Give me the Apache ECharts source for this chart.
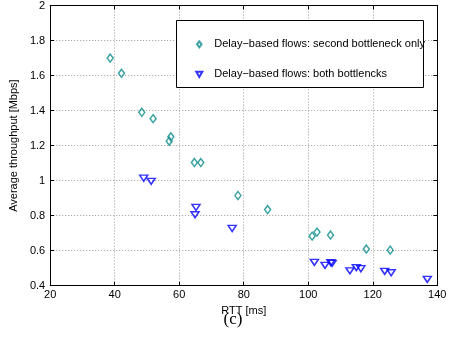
<!DOCTYPE html>
<html>
<head>
<meta charset="utf-8">
<style>
  html, body { margin: 0; padding: 0; background: #fff; }
  #chart { width: 467px; height: 345px; }
</style>
<script src="https://cdn.jsdelivr.net/npm/echarts@6/dist/echarts.min.js"></script>
</head>
<body>
<div id="chart"></div>
<script>
// RTT vs. average throughput for delay-based flows
const seriesNames = [
  'Delay\u2212based flows: second bottleneck only',
  'Delay\u2212based flows: both bottlencks'
];

// second bottleneck only
const rttSecond  = [38.6, 42.1, 48.4, 51.9, 57.4, 56.9, 64.7, 66.7, 78.2, 87.4, 101.2, 102.7, 106.9, 118.0, 125.4];
const tputSecond = [1.70, 1.613, 1.39, 1.354, 1.25, 1.225, 1.103, 1.103, 0.915, 0.835, 0.683, 0.706, 0.689, 0.609, 0.603];

// both bottlenecks
const rttBoth  = [49.0, 51.3, 65.2, 64.9, 76.4, 101.9, 105.2, 107.0, 107.4, 112.9, 114.9, 116.3, 123.7, 125.7, 136.9];
const tputBoth = [1.014, 0.996, 0.847, 0.805, 0.727, 0.533, 0.516, 0.531, 0.528, 0.485, 0.503, 0.497, 0.482, 0.474, 0.436];

const xTicks = [20, 40, 60, 80, 100, 120, 140];
const yTicks = [0.4, 0.6, 0.8, 1.0, 1.2, 1.4, 1.6, 1.8, 2.0];

const FONT = 'Liberation Sans, Arial, Helvetica, sans-serif';
const TEAL = '#0a8c8c';
const BLUE = '#0000ff';

const pairs = (xs, ys) => xs.map((x, i) => [x, ys[i]]);

const xMin = xTicks[0], xMax = xTicks[xTicks.length - 1], xStep = xTicks[1] - xTicks[0];
const yMin = yTicks[0], yMax = yTicks[yTicks.length - 1], yStep = +(yTicks[1] - yTicks[0]).toFixed(1);

const frameLine = { show: true, lineStyle: { color: '#000', width: 1 } };
const inTicks = { show: true, inside: true, length: 4, lineStyle: { color: '#000', width: 1 } };
const dotted = { show: true, lineStyle: { color: '#9a9a9a', type: [1, 2], width: 1 } };

// marker outlines used by the series and by the legend
const DIAMOND_PATH = 'path://M3,0L6,4L3,8L0,4Z';
const TRI_DOWN_PATH = 'path://M0,0L8,0L4,7Z';

const chart = echarts.init(document.getElementById('chart'), null, { renderer: 'canvas' });

chart.setOption({
  animation: false,
  backgroundColor: '#fff',
  grid: { left: 46.3, top: 5, right: 29.7, bottom: 59.3, containLabel: false },
  xAxis: [
    {
      type: 'value', position: 'bottom', min: xMin, max: xMax, interval: xStep,
      axisLine: frameLine, axisTick: inTicks, splitLine: dotted,
      axisLabel: { color: '#000', fontSize: 11, fontFamily: FONT, margin: 4 },
      name: 'RTT [ms]', nameLocation: 'middle', nameGap: 12,
      nameTextStyle: { color: '#000', fontSize: 11, fontFamily: FONT }
    },
    {
      type: 'value', position: 'top', min: xMin, max: xMax, interval: xStep,
      axisLine: frameLine, axisTick: inTicks, splitLine: { show: false },
      axisLabel: { show: false }
    }
  ],
  yAxis: [
    {
      type: 'value', position: 'left', min: yMin, max: yMax, interval: yStep,
      axisLine: frameLine, axisTick: inTicks, splitLine: dotted,
      axisLabel: { color: '#000', fontSize: 11, fontFamily: FONT, margin: 5 },
      name: 'Average throughput [Mbps]', nameLocation: 'middle', nameGap: 18, nameRotate: 90,
      nameTextStyle: { color: '#000', fontSize: 11, fontFamily: FONT }
    },
    {
      type: 'value', position: 'right', min: yMin, max: yMax, interval: yStep,
      axisLine: frameLine, axisTick: inTicks, splitLine: { show: false },
      axisLabel: { show: false }
    }
  ],
  legend: {
    orient: 'vertical', left: 190.3, top: 32.3,
    itemWidth: 6, itemHeight: 6, itemGap: 16,
    selectedMode: false, z: 10,
    textStyle: { color: '#000', fontSize: 11, fontFamily: FONT, lineHeight: 14, padding: [0, 0, 0, 7] },
    data: [
      { name: seriesNames[0], icon: DIAMOND_PATH },
      { name: seriesNames[1], icon: TRI_DOWN_PATH }
    ]
  },
  graphic: [
    {
      type: 'rect', z: 5,
      shape: { x: 176.5, y: 20.5, width: 247, height: 67 },
      style: { fill: '#fff', stroke: '#000', lineWidth: 1 }
    },
    {
      type: 'text', x: 233, y: 320,
      style: {
        text: '(c)', fill: '#000', align: 'center', verticalAlign: 'middle',
        font: '17px "Liberation Serif", "Times New Roman", serif'
      }
    }
  ],
  series: [
    {
      name: seriesNames[0], type: 'scatter',
      data: pairs(rttSecond, tputSecond),
      symbol: 'diamond', symbolSize: [6, 8],
      itemStyle: { color: 'rgba(255,255,255,0)', borderColor: TEAL, borderWidth: 1.5 }
    },
    {
      name: seriesNames[1], type: 'scatter',
      data: pairs(rttBoth, tputBoth),
      symbol: 'triangle', symbolRotate: 180, symbolSize: [8, 6],
      itemStyle: { color: 'rgba(255,255,255,0)', borderColor: BLUE, borderWidth: 1.5 }
    }
  ]
});
</script>
</body>
</html>
